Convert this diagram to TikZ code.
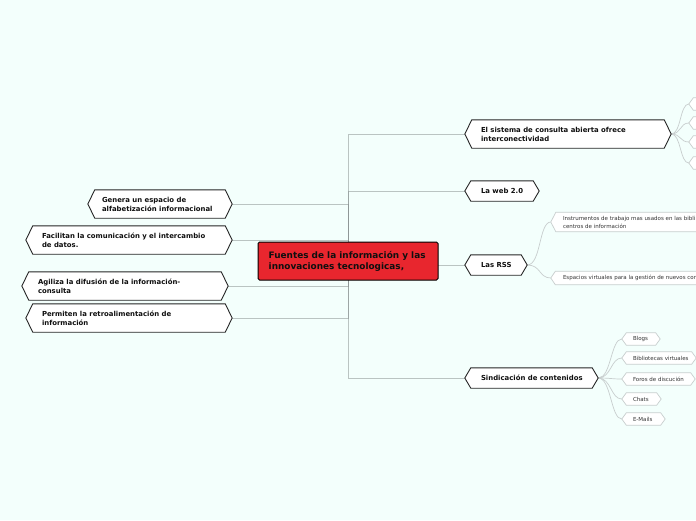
\documentclass[tikz,border=0pt]{standalone}
\usepackage{fontspec}
\setmainfont{DejaVu Sans}
\usetikzlibrary{backgrounds}
\definecolor{bgc}{RGB}{243,255,252}
\definecolor{cred}{RGB}{232,38,46}
\definecolor{lnc}{RGB}{130,138,138}
\definecolor{subc}{RGB}{200,206,206}
\definecolor{txc}{RGB}{15,15,15}
\newcommand\hexdraw[3]{\path[#3] (#1.west) -- ([xshift=#2]#1.north west) -- ([xshift=-#2]#1.north east) -- (#1.east) -- ([xshift=-#2]#1.south east) -- ([xshift=#2]#1.south west) -- cycle;}
\tikzset{
  hexbig/.style={inner sep=0pt, minimum height=28pt},
  hexsm/.style={inner sep=0pt, minimum height=20pt},
  subhex/.style={inner sep=0pt, minimum height=12pt},
  central/.style={inner sep=0pt, minimum width=180pt, minimum height=38pt, fill=cred, draw=black, line width=1pt, rounded corners=1.5pt},
  lblc/.style={anchor=west, inner sep=0pt, align=left, font=\bfseries\fontsize{8.9}{11}\selectfont, text=txc},
  lblbig/.style={anchor=west, inner sep=0pt, align=left, font=\bfseries\fontsize{6.9}{9}\selectfont, text=txc},
  lblsub/.style={anchor=west, inner sep=0pt, align=left, font=\fontsize{5.5}{8}\selectfont, text=txc!85},
  conn/.style={draw=lnc, line width=1pt, opacity=0.5},
  subconn/.style={draw=subc, line width=0.7pt},
  hexline/.style={draw=black!85, line width=0.9pt, fill=white},
  subline/.style={draw=subc, line width=0.7pt, fill=white},
}
\begin{document}
\begin{tikzpicture}[x=1pt,y=-1pt]
\useasboundingbox (0,0) rectangle (696,520);
% central
\node[central, label={[lblc, xshift=11pt]west:{Fuentes de la información y las\\innovaciones tecnologicas,}}] (C) at (348,261) {};
% left
\node[hexbig, minimum width=144pt, label={[lblbig, xshift=14pt]west:{Genera un espacio de\\alfabetización informacional}}] (L1) at (160,204) {};
\node[hexbig, minimum width=206pt, label={[lblbig, xshift=16pt]west:{Facilitan la comunicación y el intercambio\\de datos.}}] (L2) at (129,240) {};
\node[hexbig, minimum width=206pt, label={[lblbig, xshift=16pt]west:{Agiliza la difusión de la información-\\consulta}}] (L3) at (125,286) {};
\node[hexbig, minimum width=206pt, label={[lblbig, xshift=16pt]west:{Permiten la retroalimentación de\\información}}] (L4) at (129,318) {};
% right
\node[hexbig, minimum width=206pt, label={[lblbig, xshift=16pt]west:{El sistema de consulta abierta ofrece\\interconectividad}}] (R1) at (568,134) {};
\node[hexsm, minimum width=74pt, label={[lblbig, xshift=16pt]west:{La web 2.0}}] (R2) at (502,191) {};
\node[hexsm, minimum width=62pt, label={[lblbig, xshift=16pt]west:{Las RSS}}] (R3) at (496,265) {};
\node[hexsm, minimum width=133pt, label={[lblbig, xshift=16pt]west:{Sindicación de contenidos}}] (R4) at (531.5,378) {};
% children of R1 (cut by the edge)
\node[subhex, minimum width=60pt] (A1) at (719,104) {};
\node[subhex, minimum width=60pt] (A2) at (719,123) {};
\node[subhex, minimum width=60pt] (A3) at (719,142) {};
\node[subhex, minimum width=60pt] (A4) at (719,163) {};
% children of R3
\node[subhex, minimum width=200pt, minimum height=19pt, label={[lblsub, xshift=12pt]west:{Instrumentos de trabajo mas usados en las bibli\\centros de información}}] (S1) at (651,222) {};
\node[subhex, minimum width=200pt, minimum height=13pt, label={[lblsub, xshift=12pt]west:{Espacios virtuales para la gestión de nuevos con}}] (S2) at (651,278) {};
% children of R4
\node[subhex, minimum width=38pt, label={[lblsub, xshift=11pt]west:{Blogs}}] (T1) at (641,339) {};
\node[subhex, minimum width=74pt, label={[lblsub, xshift=11pt]west:{Bibliotecas virtuales}}] (T2) at (659,358) {};
\node[subhex, minimum width=73pt, label={[lblsub, xshift=11pt]west:{Foros de discución}}] (T3) at (658.5,379) {};
\node[subhex, minimum width=39pt, label={[lblsub, xshift=11pt]west:{Chats}}] (T4) at (641.5,399) {};
\node[subhex, minimum width=43pt, label={[lblsub, xshift=11pt]west:{E-Mails}}] (T5) at (643.5,419) {};

\begin{pgfonlayer}{background}
\fill[bgc] (0,0) rectangle (696,520);
\foreach \n in {L1,L2,L3,L4} {\draw[conn] (C.center) |- (\n.east);}
\foreach \n in {R1,R2,R3,R4} {\draw[conn] (C.center) |- (\n.west);}
\foreach \n in {A1,A2,A3,A4} {\draw[subconn] (R1.east) .. controls +(10,0) and +(-9,0) .. (\n.west);}
\foreach \n in {S1,S2} {\draw[subconn] (R3.east) .. controls +(14,0) and +(-12,0) .. (\n.west);}
\foreach \n in {T1,T2,T3,T4,T5} {\draw[subconn] (R4.east) .. controls +(13,0) and +(-11,0) .. (\n.west);}
\foreach \n in {L1,L2,L3,L4,R1} {\hexdraw{\n}{7pt}{hexline}}
\foreach \n in {R2,R3,R4} {\hexdraw{\n}{6pt}{hexline}}
\foreach \n in {A1,A2,A3,A4,T1,T2,T3,T4,T5,S2} {\hexdraw{\n}{4.5pt}{subline}}
\hexdraw{S1}{5pt}{subline}
\end{pgfonlayer}
\end{tikzpicture}
\end{document}
